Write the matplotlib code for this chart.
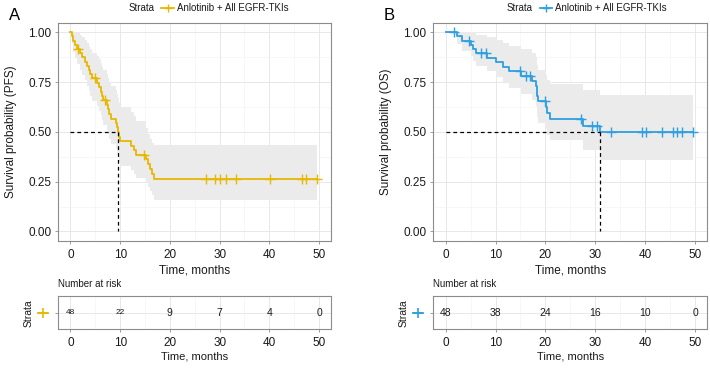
import numpy as np
import matplotlib.pyplot as plt
from matplotlib.lines import Line2D

plt.rcParams['font.family'] = ['Liberation Sans', 'DejaVu Sans']

# panel A: PFS
time_a = [0, 0.3, 0.6, 1.0, 1.3, 1.9, 2.4, 3.0, 3.3, 3.7, 4.0, 4.4, 5.4, 5.8, 6.1, 6.4, 6.6, 7.3, 7.5, 7.8,
          8.1, 9.2, 9.4, 9.6, 9.8, 9.9, 12.2, 12.8, 13.2, 15.1, 15.5, 15.9, 16.4, 16.9]
surv_a = [1.0, 0.979, 0.958, 0.938, 0.917, 0.896, 0.875, 0.853, 0.832, 0.810, 0.789, 0.768, 0.746, 0.724,
          0.702, 0.680, 0.658, 0.635, 0.613, 0.590, 0.567, 0.545, 0.522, 0.499, 0.476, 0.454, 0.430, 0.408,
          0.386, 0.362, 0.338, 0.314, 0.289, 0.262]
lower_a = [1.0, 0.939, 0.903, 0.872, 0.842, 0.813, 0.785, 0.758, 0.732, 0.706, 0.681, 0.657, 0.631, 0.607,
           0.583, 0.559, 0.535, 0.511, 0.488, 0.464, 0.440, 0.418, 0.395, 0.373, 0.351, 0.330, 0.308, 0.287,
           0.267, 0.245, 0.224, 0.203, 0.181, 0.160]
upper_a = [1.0, 1.0, 1.0, 1.0, 0.998, 0.987, 0.975, 0.960, 0.946, 0.930, 0.914, 0.898, 0.882, 0.864, 0.846,
           0.828, 0.809, 0.790, 0.771, 0.751, 0.730, 0.711, 0.690, 0.668, 0.646, 0.625, 0.601, 0.579, 0.556,
           0.520, 0.490, 0.465, 0.445, 0.432]
cens_a = [1.5, 4.9, 7.0, 14.7, 27.2, 29.1, 30.1, 31.2, 33.2, 40.2, 46.5, 47.4, 49.5]
median_a = 9.6

# panel B: OS
time_b = [0, 2.2, 3.2, 5.0, 5.5, 6.0, 8.3, 10.0, 11.5, 12.8, 15.2, 17.4, 18.2, 18.3, 18.4, 18.6, 20.2,
          20.3, 20.9, 27.5, 31.0]
surv_b = [1.0, 0.979, 0.958, 0.936, 0.915, 0.894, 0.872, 0.850, 0.828, 0.805, 0.782, 0.757, 0.731, 0.705,
          0.679, 0.653, 0.623, 0.594, 0.564, 0.531, 0.497]
lower_b = [1.0, 0.94, 0.905, 0.88, 0.855, 0.83, 0.805, 0.775, 0.75, 0.72, 0.69, 0.66, 0.63, 0.60, 0.575,
           0.545, 0.515, 0.485, 0.458, 0.41, 0.36]
upper_b = [1.0, 1.0, 1.0, 1.0, 0.999, 0.988, 0.975, 0.962, 0.947, 0.931, 0.915, 0.897, 0.878, 0.858,
           0.837, 0.812, 0.786, 0.762, 0.742, 0.711, 0.686]
cens_b = [1.7, 4.7, 7.0, 8.0, 14.9, 16.2, 16.9, 19.9, 27.1, 29.3, 30.3, 33.2, 39.3, 40.2, 43.4, 45.6,
          46.4, 47.3, 49.5]
median_b = 31.0

risk_times = [0, 10, 20, 30, 40, 50]
risk_a = [48, 22, 9, 7, 4, 0]
risk_b = [48, 38, 24, 16, 10, 0]

strata_label = 'Anlotinib + All EGFR-TKIs'

FRAME = '#8c8c8c'
TXT = '#1a1a1a'

fig = plt.figure(figsize=(7.1, 3.68), dpi=100)


def style(ax):
    for s in ax.spines.values():
        s.set_color(FRAME)
        s.set_linewidth(0.8)
    ax.tick_params(colors=FRAME, labelcolor=TXT, length=2.5, width=0.6, labelsize=8.5)
    ax.set_axisbelow(True)
    ax.grid(which='major', color='#e4e4e4', lw=0.6)
    ax.grid(which='minor', color='#f2f2f2', lw=0.4)


def panel(x0, w, times, surv, lower, upper, cens, med, col, ylab, risk, rsize, letter, leg_x):
    ax = fig.add_axes([x0, 0.3451, w, 0.5932])
    t_end = max(cens)
    tt = np.r_[times, t_end]
    ss = np.r_[surv, surv[-1]]
    ax.fill_between(tt, np.r_[lower, lower[-1]], np.r_[upper, upper[-1]], step='post',
                    color='#ebebeb', lw=0)
    ax.step(tt, ss, where='post', color=col, lw=1.3)
    idx = np.searchsorted(times, cens, side='right') - 1
    ax.plot(cens, np.array(surv)[idx], ls='none', marker='+', ms=6.5, mew=1.0, color=col)
    ax.plot([0, med], [0.5, 0.5], ls=(0, (3, 2.5)), color='black', lw=0.9)
    ax.plot([med, med], [0.5, 0], ls=(0, (3, 2.5)), color='black', lw=0.9)
    ax.set_xlim(-2.45, 52.4)
    ax.set_ylim(-0.048, 1.048)
    ax.set_xticks(risk_times)
    ax.set_xticks([5, 15, 25, 35, 45], minor=True)
    ax.set_yticks([0, 0.25, 0.5, 0.75, 1.0])
    ax.set_yticks([0.125, 0.375, 0.625, 0.875], minor=True)
    ax.set_yticklabels(['0.00', '0.25', '0.50', '0.75', '1.00'])
    style(ax)
    ax.tick_params(which='minor', length=0)
    ax.tick_params(axis='x', pad=3)
    ax.tick_params(axis='y', pad=2.5)
    ax.set_xlabel('Time, months', fontsize=8.5, color=TXT, labelpad=3)
    fig.text(x0 - 0.066, 0.642, ylab, rotation=90, ha='center', va='center', fontsize=8.5, color=TXT)
    fig.text(x0 - 0.07, 0.958, letter, ha='left', va='center', fontsize=12, color='black')

    # legend on top
    fig.text(leg_x, 0.977, 'Strata', ha='left', va='center', fontsize=7, color=TXT)
    lx = leg_x + 0.046
    fig.add_artist(Line2D([lx, lx + 0.018], [0.977, 0.977], color=col, lw=1.3, transform=fig.transFigure))
    fig.add_artist(Line2D([lx + 0.009], [0.977], marker='+', ms=6, mew=1.0, color=col,
                          transform=fig.transFigure))
    fig.text(lx + 0.022, 0.977, strata_label, ha='left', va='center', fontsize=7, color=TXT)

    # risk table
    tb = fig.add_axes([x0, 0.1052, w, 0.0905])
    tb.set_xlim(-2.45, 52.4)
    tb.set_ylim(0, 1)
    for t, n, fs in zip(risk_times, risk, rsize):
        tb.text(t, 0.5, str(n), ha='center', va='center', fontsize=fs, color=TXT)
    tb.set_xticks(risk_times)
    tb.set_xticks([5, 15, 25, 35, 45], minor=True)
    tb.set_yticks([0.5])
    tb.set_yticklabels([''])
    style(tb)
    tb.tick_params(which='minor', length=0)
    tb.tick_params(axis='x', pad=3)
    tb.set_xlabel('Time, months', fontsize=8, color=TXT, labelpad=2)
    tb.plot([-0.075, -0.037], [0.5, 0.5], color=col, lw=1.3, transform=tb.transAxes, clip_on=False)
    tb.plot([-0.056], [0.5], marker='+', ms=7, mew=1.2, color=col, transform=tb.transAxes, clip_on=False)
    fig.text(x0 - 0.042, 0.15, 'Strata', rotation=90, ha='center', va='center', fontsize=7.5, color=TXT)
    fig.text(x0, 0.228, 'Number at risk', ha='left', va='center', fontsize=7, color=TXT)


panel(0.0821, 0.3841, time_a, surv_a, lower_a, upper_a, cens_a, median_a, '#E7B800',
      'Survival probability (PFS)', risk_a, [6, 6, 7.5, 7.5, 7.5, 7.5], 'A', 0.181)
panel(0.6103, 0.3859, time_b, surv_b, lower_b, upper_b, cens_b, median_b, '#2E9FDF',
      'Survival probability (OS)', risk_b, [7.5] * 6, 'B', 0.714)

fig.savefig('out.png', dpi=100)
